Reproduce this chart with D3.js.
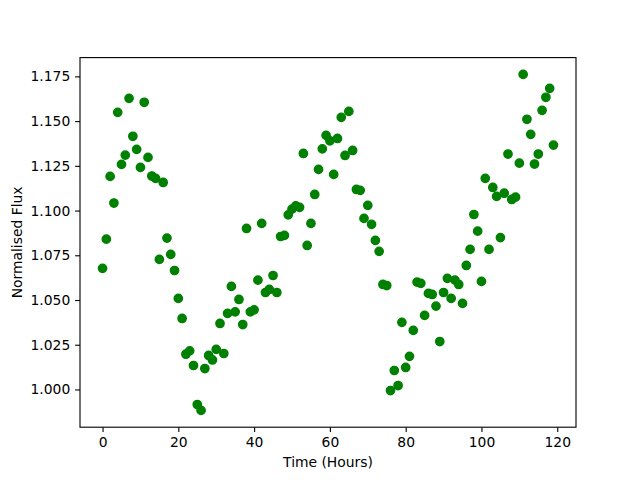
<!DOCTYPE html>
<html>
<head>
<meta charset="utf-8">
<script src="https://cdn.jsdelivr.net/npm/d3@7"></script>
<style>
  html, body { margin: 0; padding: 0; background: #fff; }
  svg { display: block; }
  text { font-family: "DejaVu Sans", sans-serif; }
</style>
</head>
<body>
<svg id="chart" width="640" height="480"></svg>
<script>
// light curve, one sample per hour
const hours = [
  0, 1, 2, 3, 4, 5, 6, 7, 8, 9, 10, 11, 12, 13, 14, 15, 16, 17, 18, 19,
  20, 21, 22, 23, 24, 25, 26, 27, 28, 29, 30, 31, 32, 33, 34, 35, 36, 37, 38, 39,
  40, 41, 42, 43, 44, 45, 46, 47, 48, 49, 50, 51, 52, 53, 54, 55, 56, 57, 58, 59,
  60, 61, 62, 63, 64, 65, 66, 67, 68, 69, 70, 71, 72, 73, 74, 75, 76, 77, 78, 79,
  80, 81, 82, 83, 84, 85, 86, 87, 88, 89, 90, 91, 92, 93, 94, 95, 96, 97, 98, 99,
  100, 101, 102, 103, 104, 105, 106, 107, 108, 109, 110, 111, 112, 113, 114, 115, 116, 117, 118, 119
];

const flux = [
  1.0677, 1.0840, 1.1191, 1.1042, 1.1549, 1.1258, 1.1310, 1.1627, 1.1415, 1.1342,
  1.1241, 1.1605, 1.1297, 1.1193, 1.1180, 1.0727, 1.1157, 1.0846, 1.0755, 1.0665,
  1.0509, 1.0397, 1.0197, 1.0216, 1.0134, 0.9916, 0.9883, 1.0117, 1.0190, 1.0165,
  1.0224, 1.0369, 1.0201, 1.0425, 1.0576, 1.0434, 1.0503, 1.0363, 1.0900, 1.0434,
  1.0445, 1.0611, 1.0928, 1.0542, 1.0559, 1.0637, 1.0542, 1.0855, 1.0861, 1.0976,
  1.1008, 1.1026, 1.1018, 1.1319, 1.0805, 1.0928, 1.1090, 1.1230, 1.1345, 1.1420,
  1.1390, 1.1202, 1.1403, 1.1521, 1.1308, 1.1554, 1.1336, 1.1118, 1.1113, 1.0956,
  1.1029, 1.0923, 1.0833, 1.0772, 1.0587, 1.0581, 0.9994, 1.0106, 1.0022, 1.0375,
  1.0123, 1.0185, 1.0330, 1.0600, 1.0593, 1.0414, 1.0537, 1.0531, 1.0466, 1.0268,
  1.0542, 1.0621, 1.0509, 1.0611, 1.0587, 1.0481, 1.0693, 1.0783, 1.0978, 1.0885,
  1.0604, 1.1180, 1.0783, 1.1129, 1.1079, 1.0849, 1.1097, 1.1316, 1.1062, 1.1075,
  1.1265, 1.1761, 1.1510, 1.1426, 1.1260, 1.1316, 1.1560, 1.1633, 1.1683, 1.1366
];

const xTicks = [0, 20, 40, 60, 80, 100, 120];
const yTicks = [1.000, 1.025, 1.050, 1.075, 1.100, 1.125, 1.150, 1.175];

const width = 640;
const height = 480;
const margin = { top: 57.6, right: 64, bottom: 52.8, left: 80 };
const innerW = width - margin.left - margin.right;
const innerH = height - margin.top - margin.bottom;
const pt = 100 / 72;

const svg = d3.select('#chart');

const chartGroup = svg
  .append('g')
  .attr('transform', `translate(${margin.left},${margin.top})`);

// matplotlib style 5% padding around the data
const pad = (lo, hi) => { const d = (hi - lo) * 0.05; return [lo - d, hi + d]; };

const x = d3.scaleLinear()
  .domain(pad(d3.min(hours), d3.max(hours)))
  .range([0, innerW]);
const y = d3.scaleLinear()
  .domain(pad(d3.min(flux), d3.max(flux)))
  .range([innerH, 0]);

const points = hours.map((h, i) => ({ t: h, f: flux[i] }));

chartGroup
  .selectAll('.dot')
  .data(points)
  .enter()
  .append('circle')
  .attr('class', 'dot')
  .attr('cx', (d) => x(d.t))
  .attr('cy', (d) => y(d.f))
  .attr('r', 3 * pt)
  .attr('fill', '#008000')
  .attr('stroke', '#008000')
  .attr('stroke-width', 1 * pt);

const xAxis = chartGroup
  .append('g')
  .attr('transform', `translate(0,${innerH})`)
  .call(d3.axisBottom(x).tickValues(xTicks).tickFormat(d3.format('d'))
    .tickSize(3.5 * pt).tickPadding(3.5 * pt).tickSizeOuter(0));

const yAxis = chartGroup
  .append('g')
  .call(d3.axisLeft(y).tickValues(yTicks).tickFormat(d3.format('.3f'))
    .tickSize(3.5 * pt).tickPadding(3.5 * pt).tickSizeOuter(0));

[xAxis, yAxis].forEach((ax) => {
  ax.select('.domain').remove();
  ax.selectAll('.tick line').attr('stroke', '#000').attr('stroke-width', 0.8 * pt);
  ax.selectAll('.tick text')
    .attr('fill', '#000')
    .style('font-family', '"DejaVu Sans", sans-serif')
    .style('font-size', `${10 * pt}px`);
});

// frame
chartGroup
  .append('rect')
  .attr('x', 0)
  .attr('y', 0)
  .attr('width', innerW)
  .attr('height', innerH)
  .attr('fill', 'none')
  .attr('stroke', '#000')
  .attr('stroke-width', 0.8 * pt);

svg.append('text')
  .attr('x', margin.left + innerW / 2)
  .attr('y', 467)
  .attr('text-anchor', 'middle')
  .style('font-size', `${10 * pt}px`)
  .text('Time (Hours)');

svg.append('text')
  .attr('transform', `translate(21.5,${margin.top + innerH / 2}) rotate(-90)`)
  .attr('text-anchor', 'middle')
  .style('font-size', `${10 * pt}px`)
  .text('Normalised Flux');
</script>
</body>
</html>
